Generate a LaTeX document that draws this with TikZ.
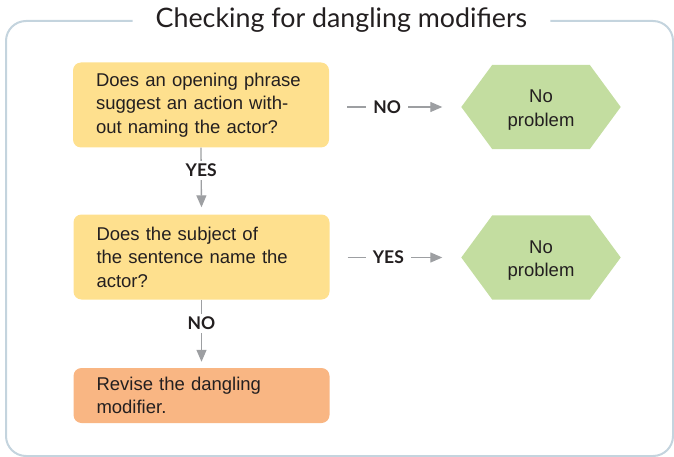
\documentclass[tikz,border=0pt]{standalone}
\usepackage{fontspec}
\setmainfont{Liberation Sans}
\newfontfamily\headfont{Lato}
\usetikzlibrary{arrows.meta,backgrounds,positioning}

\definecolor{framegrey}{HTML}{C4D4DE}
\definecolor{askyellow}{HTML}{FEE08E}
\definecolor{fixorange}{HTML}{F9B683}
\definecolor{okgreen}{HTML}{C3DDA0}
\definecolor{linkgrey}{HTML}{9D9FA2}
\definecolor{inkblack}{HTML}{231F20}

\tikzset{
  askbox/.style={fill=askyellow, rounded corners=8pt, text width=210pt,
    inner xsep=23pt, inner ysep=0pt, minimum height=85pt, align=left,
    text=inkblack, font=\fontsize{18.5}{23.5}\selectfont},
  fixbox/.style={askbox, fill=fixorange, minimum height=55pt},
  okbox/.style={minimum width=159pt, minimum height=84pt, inner sep=0pt},
  oktext/.style={align=center, inner sep=0pt, text=inkblack,
    font=\fontsize{18.5}{23.5}\selectfont},
  link/.style={draw=linkgrey, line width=1.3pt,
    -{Triangle[length=12pt,width=10pt]}},
  linklabel/.style={fill=white, inner xsep=7pt, inner ysep=3pt, text=inkblack,
    font=\headfont\bfseries\fontsize{17.5}{20}\selectfont},
  titletext/.style={inner xsep=23pt, inner ysep=0pt, text=inkblack,
    font=\headfont\fontsize{26.8}{30}\selectfont}
}

\begin{document}
\begin{tikzpicture}[x=1pt,y=-1pt]
  \useasboundingbox (0,0) rectangle (674,457);

  % frame and title
  \node[titletext, anchor=base] (title) at (341.5,28) {Checking for dangling modifiers};
  \draw[framegrey, line width=2pt, rounded corners=20pt]
    (title.west |- 0,21) -- (6,21) -- (6,456) -- (673,456) -- (673,21) -- (title.east |- 0,21);

  % boxes
  \node[askbox] (ask) at (201,105) {Does an opening phrase\\suggest an action with-\\out naming the actor?};
  \node[askbox] (check) at (201.5,257) {Does the subject of\\the sentence name the\\actor?};
  \node[fixbox] (fix) at (201.5,395.5) {Revise the dangling\\modifier.};
  \node[okbox] (okA) at (541,107) {};
  \node[okbox] (okB) at (541,257.5) {};
  \node[oktext] (okAtext) at ([yshift=-3pt]okA.center) {No\\problem};
  \node[oktext] (okBtext) at ([yshift=-3pt]okB.center) {No\\problem};

  \begin{scope}[on background layer]
    \foreach \hx in {okA,okB}
      \fill[okgreen] (\hx.west) -- ([xshift=31pt]\hx.north west) -- ([xshift=-31pt]\hx.north east)
        -- (\hx.east) -- ([xshift=-31pt]\hx.south east) -- ([xshift=31pt]\hx.south west) -- cycle;
  \end{scope}

  % connectors
  \draw[link] ([xshift=18pt]ask.east |- okA.west) -- ([xshift=-19pt]okA.west) node[pos=0.42, linklabel] {NO};
  \draw[link] ([xshift=18pt]check.east |- okB.west) -- ([xshift=-19pt]okB.west) node[pos=0.43, linklabel] {YES};
  \draw[link] (ask.south) -- ([yshift=7pt]check.north) node[pos=0.38, linklabel] {YES};
  \draw[link] (check.south) -- ([yshift=6pt]fix.north) node[pos=0.38, linklabel] {NO};
\end{tikzpicture}
\end{document}
